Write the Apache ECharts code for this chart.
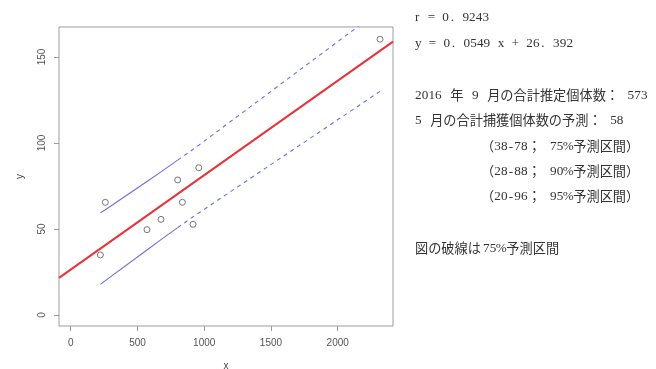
<!DOCTYPE html>
<html>
<head>
<meta charset="utf-8">
<script src="https://cdn.jsdelivr.net/npm/echarts@6/dist/echarts.min.js"></script>
<style>
  html, body { margin: 0; padding: 0; background: #fff; }
  #chart { width: 656px; height: 369px; }
</style>
</head>
<body>
<div id="chart"></div>
<script>
// Observed pairs: total estimated individuals (x) vs. total captured (y)
const obsX = [222, 259, 571, 676, 801, 836, 916, 959, 2317];
const obsY = [34.9, 65.5, 49.6, 55.6, 78.5, 65.5, 52.7, 85.6, 160.3];

// 75% prediction band evaluated at the observed x values
const bandX     = [222, 259, 571, 676, 801, 836, 916, 959, 2317];
const bandUpper = [59.4, 61.2, 77.6, 83.2, 90.0, 91.9, 96.3, 98.7, 177.2];
const bandLower = [17.8, 20.0, 37.8, 43.8, 50.8, 52.7, 57.1, 59.3, 130.0];
const solidUntilX = 801;   // band drawn solid up to here, dashed beyond

// Fitted regression line y = slope * x + intercept
const slope = 0.0549;
const intercept = 26.392;

// Axis ranges and tick labels
const xRange = [-88, 2414];
const yRange = [-6.4, 167.4];
const xTicks = [0, 500, 1000, 1500, 2000];
const yTicks = [0, 50, 100, 150];

// Annotation text shown to the right of the plot
const infoText = [
  'r = 0.9243',
  'y = 0.0549 x + 26.392',
  '2016 年 9 月の合計推定個体数： 573',
  '5 月の合計捕獲個体数の予測： 58',
  '（38-78； 75%予測区間）',
  '（28-88； 90%予測区間）',
  '（20-96； 95%予測区間）',
  '図の破線は 75%予測区間'
];

// Placement of each annotation line (left edge, text centre y, space width)
const infoLayout = [
  [415, 17, 7.5], [415, 43, 7.5], [415, 94, 8.5], [415, 119, 8.5],
  [481, 145, 9], [481, 170, 9], [481, 195, 9], [415, 247, 2]
];

const pairs = (xs, ys) => xs.map((v, i) => [v, ys[i]]);
const solidIdx = bandX.map((v, i) => i).filter(i => bandX[i] <= solidUntilX);
const dashIdx = bandX.map((v, i) => i).filter(i => bandX[i] >= solidUntilX);
const pick = (idx, ys) => idx.map(i => [bandX[i], ys[i]]);

const fitLine = xRange.map(v => [v, slope * v + intercept]);

// Half-width characters sit in fixed-width cells (Mincho-like spacing),
// full-width runs are set in the CJK face. A little top padding drops the
// Latin glyphs onto the same visual baseline as the CJK run.
const HALF = 6.7;
const textFont = 13.2;
const textColor = '#333';
const DROP = 2.6;
const latin = { fontFamily: 'Liberation Serif', fontSize: textFont, fill: textColor, align: 'center' };
function richStyles(spaceW) {
  return {
    h: Object.assign({ width: HALF, padding: [DROP, 0, 0, 0] }, latin),
    // the period keeps an empty cell after it, as in the Mincho face
    p: Object.assign({ width: HALF, padding: [DROP, HALF, 0, 0] }, latin),
    s: Object.assign({ width: spaceW, padding: [DROP, 0, 0, 0] }, latin),
    w: Object.assign({ width: 10, padding: [DROP, 0, 0, 0] }, latin),
    j: { fontFamily: 'Noto Sans CJK JP', fontSize: textFont, fill: textColor, align: 'center' }
  };
}
function toRich(str) {
  let out = '';
  let run = '';
  const flush = () => { if (run) { out += '{j|' + run + '}'; run = ''; } };
  for (const ch of str) {
    if (ch.charCodeAt(0) < 0x100) {
      flush();
      const key = ch === '.' ? 'p' : ch === '%' ? 'w' : ch === ' ' ? 's' : 'h';
      out += '{' + key + '|' + ch + '}';
    } else {
      run += ch;
    }
  }
  flush();
  return out;
}

const bandColor = '#6e6ee4';
const bandStyle = (type) => ({
  type: 'line', showSymbol: false, silent: true, clip: true, z: 2,
  lineStyle: { color: bandColor, width: 1.1, type: type }
});

const chart = echarts.init(document.getElementById('chart'), null, { renderer: 'canvas' });

chart.setOption({
  animation: false,
  backgroundColor: '#fff',
  grid: {
    left: 59, top: 27, width: 334, height: 299,
    outerBoundsMode: 'none', containLabel: false,
    show: true, borderColor: '#9d9d9d', borderWidth: 1
  },
  xAxis: {
    type: 'value', min: xRange[0], max: xRange[1],
    name: 'x', nameLocation: 'middle', nameGap: 35,
    nameTextStyle: { color: '#444', fontSize: 10, fontFamily: 'Liberation Sans' },
    axisLine: { show: false, onZero: false },
    splitLine: { show: false },
    axisTick: { show: true, inside: false, length: 5, customValues: xTicks, lineStyle: { color: '#999' } },
    axisLabel: {
      customValues: xTicks, color: '#555', fontSize: 10, margin: 12,
      fontFamily: 'Liberation Sans', formatter: v => String(v)
    }
  },
  yAxis: {
    type: 'value', min: yRange[0], max: yRange[1],
    name: 'y', nameLocation: 'middle', nameGap: 34,
    nameTextStyle: { color: '#444', fontSize: 10, fontFamily: 'Liberation Sans' },
    axisLine: { show: false, onZero: false },
    splitLine: { show: false },
    axisTick: { show: true, inside: false, length: 5, customValues: yTicks, lineStyle: { color: '#999' } },
    axisLabel: {
      customValues: yTicks, color: '#555', fontSize: 10, margin: 12, rotate: 90,
      fontFamily: 'Liberation Sans', formatter: v => String(v)
    }
  },
  series: [
    Object.assign(bandStyle('solid'), { data: pick(solidIdx, bandUpper) }),
    Object.assign(bandStyle([4, 4]), { data: pick(dashIdx, bandUpper) }),
    Object.assign(bandStyle('solid'), { data: pick(solidIdx, bandLower) }),
    Object.assign(bandStyle([4, 4]), { data: pick(dashIdx, bandLower) }),
    {
      type: 'line', data: fitLine, showSymbol: false, silent: true, clip: true, z: 3,
      lineStyle: { color: '#e8323a', width: 2 }
    },
    {
      type: 'scatter', data: pairs(obsX, obsY), symbol: 'circle', symbolSize: 6, z: 4,
      itemStyle: { color: 'rgba(0,0,0,0)', borderColor: '#555', borderWidth: 1 }
    }
  ],
  graphic: infoText.map((t, i) => ({
    type: 'text', left: infoLayout[i][0], top: infoLayout[i][1] - 6,
    style: { text: toRich(t), rich: richStyles(infoLayout[i][2]), fill: textColor }
  }))
});
</script>
</body>
</html>
